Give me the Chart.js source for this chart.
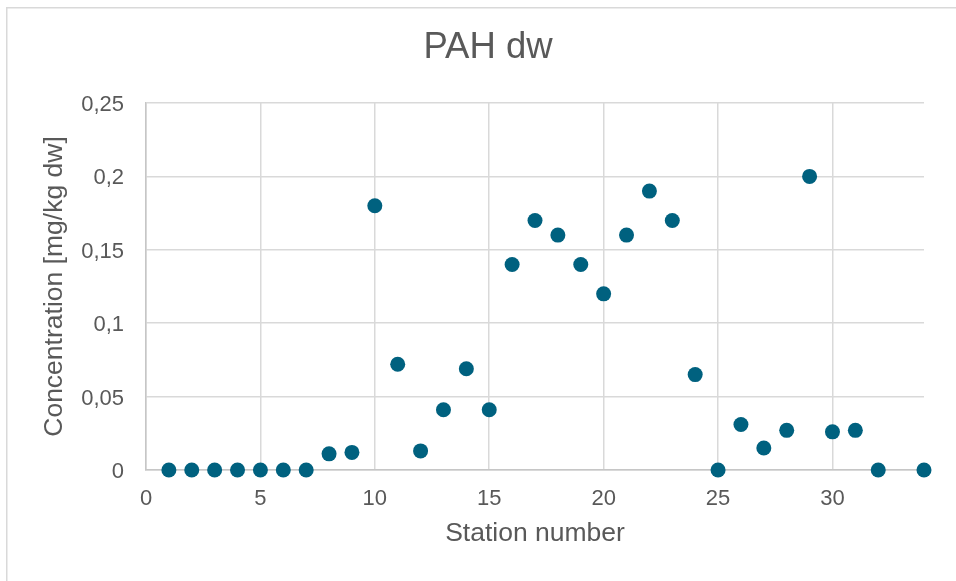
<!DOCTYPE html>
<html>
<head>
<meta charset="utf-8">
<title>PAH dw</title>
<script src="https://cdn.jsdelivr.net/npm/chart.js@4/dist/chart.umd.min.js"></script>
<style>
  html, body { margin: 0; padding: 0; background: #ffffff; overflow: hidden; }
  #wrap { position: relative; width: 956px; height: 581px; }
</style>
</head>
<body>
<div id="wrap"><canvas id="chart" width="956" height="581"></canvas></div>
<script>
// Station numbers (station 33 has no measurement)
const stations = [1, 2, 3, 4, 5, 6, 7, 8, 9, 10, 11, 12, 13, 14, 15, 16, 17,
  18, 19, 20, 21, 22, 23, 24, 25, 26, 27, 28, 29, 30, 31, 32, 34];

// PAH concentration, mg/kg dry weight
const concentrations = [0, 0, 0, 0, 0, 0, 0, 0.011, 0.012, 0.18, 0.072, 0.013,
  0.041, 0.069, 0.041, 0.14, 0.17, 0.16, 0.14, 0.12, 0.16, 0.19, 0.17, 0.065,
  0, 0.031, 0.015, 0.027, 0.20, 0.026, 0.027, 0, 0];

// Axis ticks
const xTickValues = [0, 5, 10, 15, 20, 25, 30];
const yTickValues = [0, 0.05, 0.1, 0.15, 0.2, 0.25];
const yTickLabels = ['0', '0,05', '0,1', '0,15', '0,2', '0,25'];

const chartTitle = 'PAH dw';
const xAxisTitle = 'Station number';
const yAxisTitle = 'Concentration [mg/kg dw]';

const points = stations.map((s, i) => ({ x: s, y: concentrations[i] }));

const textColor = '#595959';
const gridColor = '#d9d9d9';
const axisColor = '#c6c6c6';
const markerColor = '#00617f';
const fontFamily = '"Liberation Sans", Arial, sans-serif';

// Light frame around the chart
const framePlugin = {
  id: 'frame',
  beforeDraw(chart) {
    const ctx = chart.ctx;
    ctx.save();
    ctx.strokeStyle = '#d9d9d9';
    ctx.lineWidth = 1.5;
    ctx.strokeRect(6.75, 7.75, 2000, 2000);
    ctx.restore();
  }
};

new Chart(document.getElementById('chart'), {
  type: 'scatter',
  data: {
    datasets: [{
      label: chartTitle,
      data: points,
      backgroundColor: markerColor,
      borderColor: markerColor,
      borderWidth: 0,
      pointRadius: 7.5,
      pointHoverRadius: 7.5,
      clip: false
    }]
  },
  options: {
    responsive: false,
    animation: false,
    events: [],
    layout: { padding: { left: 52, right: 32, top: 7, bottom: 31 } },
    plugins: {
      legend: { display: false },
      tooltip: { enabled: false },
      title: {
        display: true,
        text: chartTitle,
        color: textColor,
        font: { family: fontFamily, size: 36.5, weight: 'normal', lineHeight: 1.2 },
        padding: { top: 19, bottom: 33.2 }
      }
    },
    scales: {
      x: {
        type: 'linear',
        min: 0,
        max: 34,
        afterBuildTicks(scale) {
          scale.ticks = xTickValues.map(v => ({ value: v }));
        },
        afterFit(scale) { scale.height = 80; },
        grid: { color: gridColor, lineWidth: 1.5, drawTicks: false },
        border: { color: axisColor, width: 1.5 },
        ticks: {
          color: textColor,
          padding: 16,
          maxRotation: 0,
          font: { family: fontFamily, size: 22 },
          callback: v => String(v)
        },
        title: {
          display: true,
          text: xAxisTitle,
          color: textColor,
          font: { family: fontFamily, size: 26.5, lineHeight: 1.2 },
          padding: { top: 0, bottom: 0 }
        }
      },
      y: {
        type: 'linear',
        min: 0,
        max: 0.25,
        afterBuildTicks(scale) {
          scale.ticks = yTickValues.map(v => ({ value: v }));
        },
        afterFit(scale) { scale.width = 94; },
        grid: { color: gridColor, lineWidth: 1.5, drawTicks: false },
        border: { color: axisColor, width: 1.5 },
        ticks: {
          color: textColor,
          padding: 22,
          labelOffset: 2,
          font: { family: fontFamily, size: 22 },
          callback: (v, i) => yTickLabels[yTickValues.indexOf(v)] ?? yTickLabels[i]
        },
        title: {
          display: true,
          text: yAxisTitle,
          color: textColor,
          font: { family: fontFamily, size: 26.5, lineHeight: 1.2 },
          padding: { top: -12.9, bottom: 0 }
        }
      }
    }
  },
  plugins: [framePlugin]
});
</script>
</body>
</html>
